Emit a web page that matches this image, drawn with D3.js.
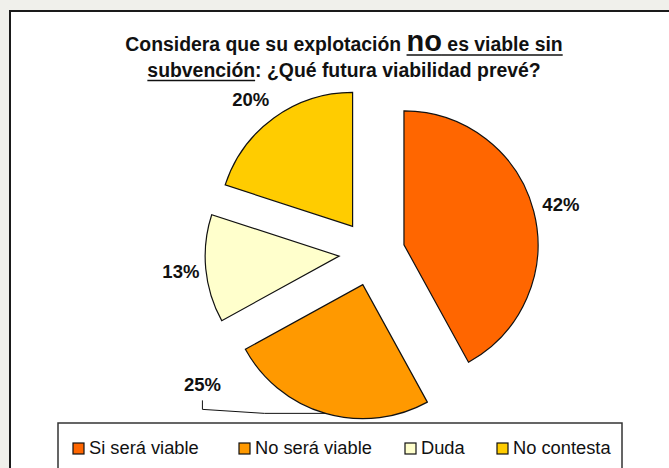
<!DOCTYPE html>
<html>
<head>
<meta charset="utf-8">
<script src="https://cdn.jsdelivr.net/npm/d3@7"></script>
<style>
  html, body { margin: 0; padding: 0; background: #f0f0eb; }
  svg { display: block; }
  text { font-family: "Liberation Sans", Arial, sans-serif; white-space: pre; }
</style>
</head>
<body>
<div id="chart"></div>
<script>
// datos
var categories = ["Si será viable", "No será viable", "Duda", "No contesta"];
var values = [42, 25, 13, 20];
var colors = ["#ff6600", "#ff9900", "#ffffcc", "#ffcc00"];
var pctLabels = ["42%", "25%", "13%", "20%"];

var W = 669, H = 468;
var cx = 372, cy = 253, R = 134, explode = 33;

var svg = d3.select("#chart").append("svg")
  .attr("width", W)
  .attr("height", H);

// fondo del grafico
svg.append("rect")
  .attr("x", 10).attr("y", 11)
  .attr("width", W + 20).attr("height", H + 20)
  .attr("fill", "#fff")
  .attr("stroke", "#1a1a1a")
  .attr("stroke-width", 2);

// titulo: partes [texto, tamaño, subrayado]
var title1 = [["Considera que su explotación ", 19.4, false], ["no", 29, true], [" es viable sin", 19.4, true]];
var title2 = [["subvención", 19.4, true], [": ¿Qué futura viabilidad prevé?", 19.4, false]];

function titleLine(parts, y, uy) {
  var t = svg.append("text")
    .attr("y", y)
    .style("font-weight", "bold")
    .attr("fill", "#111");
  var spans = parts.map(function(p) {
    return t.append("tspan").text(p[0]).style("font-size", p[1] + "px");
  });
  var lens = spans.map(function(s) { return s.node().getComputedTextLength(); });
  var total = d3.sum(lens);
  var x = 344 - total / 2;
  t.attr("x", x);
  // subrayado a mano para que quede en una sola linea
  parts.forEach(function(p, i) {
    if (p[2]) {
      svg.append("line")
        .attr("x1", x).attr("x2", x + lens[i])
        .attr("y1", uy).attr("y2", uy)
        .attr("stroke", "#111")
        .attr("stroke-width", 1.6);
    }
    x += lens[i];
  });
}
titleLine(title1, 51, 55);
titleLine(title2, 77, 80.5);

// tarta
var pie = d3.pie().sort(null).value(function(d) { return d; });
var arcs = pie(values);
var arc = d3.arc().innerRadius(0).outerRadius(R);

function dir(a) { return [Math.sin(a), -Math.cos(a)]; }

var g = svg.append("g").attr("transform", "translate(" + cx + "," + cy + ")");

g.selectAll("path.slice")
  .data(arcs)
  .enter().append("path")
  .attr("class", "slice")
  .attr("transform", function(d) {
    var m = dir((d.startAngle + d.endAngle) / 2);
    return "translate(" + (m[0] * explode) + "," + (m[1] * explode) + ")";
  })
  .attr("d", arc)
  .attr("fill", function(d, i) { return colors[i]; })
  .attr("stroke", "#111")
  .attr("stroke-width", 1.2);

// etiquetas (distancia fuera del arco y ajuste fino)
var labelOff = [28, 0, 25, 29];
var labelNudge = [[0, 0], [0, 0], [0, 0], [-6, 5]];

arcs.forEach(function(d, i) {
  var m = dir((d.startAngle + d.endAngle) / 2);
  var ax = m[0] * explode, ay = m[1] * explode;
  var lx, ly;
  if (i === 1) {
    // etiqueta desplazada con linea guia
    var ex = ax + m[0] * R, ey = ay + m[1] * R;
    lx = ex - 123; ly = ey - 29;
    g.append("polyline")
      .attr("points", [[lx, ly + 16], [lx, ly + 25], [lx + 62, ly + 29], [ex, ey]].map(function(p) { return p.join(","); }).join(" "))
      .attr("fill", "none")
      .attr("stroke", "#111")
      .attr("stroke-width", 1);
  } else {
    lx = ax + m[0] * (R + labelOff[i]) + labelNudge[i][0];
    ly = ay + m[1] * (R + labelOff[i]) + labelNudge[i][1];
  }
  g.append("text")
    .attr("x", lx).attr("y", ly)
    .attr("dy", "0.36em")
    .attr("text-anchor", "middle")
    .style("font-weight", "bold")
    .style("font-size", "18.5px")
    .attr("fill", "#111")
    .text(pctLabels[i]);
});

// leyenda
var legend = svg.append("g");
legend.append("rect")
  .attr("x", 58).attr("y", 423)
  .attr("width", 564).attr("height", 80)
  .attr("fill", "#fff")
  .attr("stroke", "#333")
  .attr("stroke-width", 1.5);

var legendX = [73, 239, 405, 497];
var items = legend.selectAll("g.item")
  .data(categories)
  .enter().append("g")
  .attr("class", "item")
  .attr("transform", function(d, i) { return "translate(" + legendX[i] + ",443)"; });

items.append("rect")
  .attr("width", 11).attr("height", 11)
  .attr("fill", function(d, i) { return colors[i]; })
  .attr("stroke", "#111")
  .attr("stroke-width", 1.2);

items.append("text")
  .attr("x", 16).attr("y", 11)
  .style("font-size", "18.3px")
  .attr("fill", "#111")
  .text(function(d) { return d; });
</script>
</body>
</html>
